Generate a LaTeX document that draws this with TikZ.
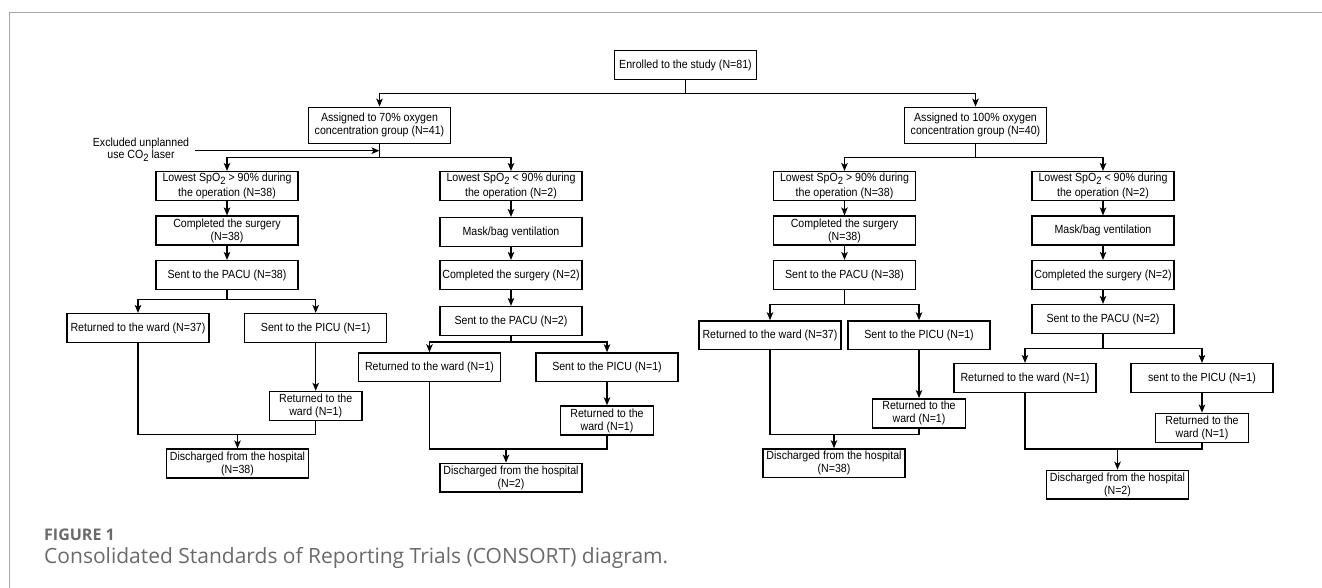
\documentclass[tikz,border=0pt]{standalone}
\usepackage{fontspec}
\setmainfont{Liberation Sans}[FakeStretch=0.9]
\newfontfamily\capfont{Open Sans}
\usetikzlibrary{arrows.meta}
\definecolor{framegray}{HTML}{A8A8A8}
\definecolor{capgray}{HTML}{6A6A6A}
\newcommand{\subtwo}{\raisebox{-3pt}{\fontsize{10.5}{10.5}\selectfont 2}}
\begin{document}
\begin{tikzpicture}[x=1pt,y=-1pt,
  box/.style={draw, line width=1.4pt, inner sep=0pt, align=center,
    font=\fontsize{11.8}{13}\selectfont, minimum width=142pt, minimum height=28.7pt},
  spobox/.style={box, font=\fontsize{11.8}{15.5}\selectfont},
  narrowbox/.style={box, minimum width=92.5pt, minimum height=29pt},
  tallbox/.style={box, minimum height=36pt},
  conn/.style={line width=1.4pt},
  arr/.style={conn, -{Stealth[length=8pt,width=6.5pt,inset=2pt]}},
  plain/.style={inner sep=0pt, align=center, font=\fontsize{11.8}{12.5}\selectfont}]
\useasboundingbox (0,0) rectangle (1322,588);
\draw[framegray, line width=1.5pt] (1322,12.7) -- (9.3,12.7) -- (9.3,588);

% top
\node[box] (enr) at (685.5,65) {Enrolled to the study (N=81)};
\node[tallbox] (a70) at (379.5,125.3) {Assigned to 70\% oxygen\\concentration group (N=41)};
\node[tallbox] (a100) at (975.5,125.3) {Assigned to 100\% oxygen\\concentration group (N=40)};
\node[plain] (exc) at (141,149.5) {Excluded unplanned\\use CO\subtwo{} laser};

% 70% group
\node[spobox] (L1) at (227,186) {Lowest SpO\subtwo{} > 90\% during\\the operation (N=38)};
\node[spobox] (L2) at (511,186) {Lowest SpO\subtwo{} < 90\% during\\the operation (N=2)};
\node[box] (L1c) at (227,230.5) {Completed the surgery\\(N=38)};
\node[box] (L2m) at (511,232) {Mask/bag ventilation};
\node[box] (L1p) at (227,275) {Sent to the PACU (N=38)};
\node[box] (L2c) at (511,275) {Completed the surgery (N=2)};
\node[box] (L1w) at (138,328) {Returned to the ward (N=37)};
\node[box] (L1i) at (315.7,328) {Sent to the PICU (N=1)};
\node[narrowbox] (L1r) at (315.7,406) {Returned to the\\ward (N=1)};
\node[box] (L1d) at (237.5,463.5) {Discharged from the hospital\\(N=38)};
\node[box] (L2p) at (511,321) {Sent to the PACU (N=2)};
\node[box] (L2w) at (429.5,367.3) {Returned to the ward (N=1)};
\node[box] (L2i) at (607,367.3) {Sent to the PICU (N=1)};
\node[narrowbox] (L2r) at (607,420.5) {Returned to the\\ward (N=1)};
\node[box] (L2d) at (511,477.7) {Discharged from the hospital\\(N=2)};

% 100% group
\node[spobox] (R1) at (844.5,186) {Lowest SpO\subtwo{} > 90\% during\\the operation (N=38)};
\node[spobox] (R2) at (1103,186) {Lowest SpO\subtwo{} < 90\% during\\the operation (N=2)};
\node[box] (R1c) at (844.5,230.5) {Completed the surgery\\(N=38)};
\node[box] (R2m) at (1103,230.5) {Mask/bag ventilation};
\node[box] (R1p) at (844.5,275) {Sent to the PACU (N=38)};
\node[box] (R2c) at (1103,275) {Completed the surgery (N=2)};
\node[box] (R1w) at (770,335.3) {Returned to the ward (N=37)};
\node[box] (R1i) at (919,335.3) {Sent to the PICU (N=1)};
\node[narrowbox] (R1r) at (919,413.3) {Returned to the\\ward (N=1)};
\node[box] (R1d) at (834,463.3) {Discharged from the hospital\\(N=38)};
\node[box] (R2p) at (1103,319) {Sent to the PACU (N=2)};
\node[box] (R2w) at (1025,378) {Returned to the ward (N=1)};
\node[box] (R2i) at (1202,378) {sent to the PICU (N=1)};
\node[narrowbox] (R2r) at (1202,427.8) {Returned to the\\ward (N=1)};
\node[box] (R2d) at (1117.5,484.7) {Discharged from the hospital\\(N=2)};

% junction coordinates
\coordinate (s0) at (685.5,93.3);
\coordinate (s70) at (379.5,157.3);
\coordinate (s100) at (975.5,157.3);
\coordinate (excstart) at (195,150.7);
\coordinate (excend) at (379.5,150.7);
\coordinate (sL1) at (227,299.3);
\coordinate (sL2) at (511,342);
\coordinate (sR1) at (844.5,304.7);
\coordinate (sR2) at (1103,348.7);
\coordinate (jL1) at (237.5,434.7);
\coordinate (jL2) at (506,449);
\coordinate (jR1) at (834,434.7);
\coordinate (jR2) at (1117.5,449);

% connectors
\draw[conn] (enr.south) -- (s0);
\draw[arr] (s0) -| (a70.north);
\draw[arr] (s0) -| (a100.north);
\draw[conn] (a70.south) -- (s70);
\draw[arr] (s70) -| (L1.north);
\draw[arr] (s70) -| (L2.north);
\draw[arr] (excstart) -- (excend);
\draw[conn] (a100.south) -- (s100);
\draw[arr] (s100) -| (R1.north);
\draw[arr] (s100) -| (R2.north);

\draw[arr] (L1.south) -- (L1c.north);
\draw[arr] (L1c.south) -- (L1p.north);
\draw[conn] (L1p.south) -- (sL1);
\draw[arr] (sL1) -| (L1w.north);
\draw[arr] (sL1) -| (L1i.north);
\draw[arr] (L1i.south) -- (L1r.north);
\draw[conn] (L1w.south) |- (jL1) -| (L1r.south);
\draw[arr] (jL1) -- (L1d.north);

\draw[arr] (L2.south) -- (L2m.north);
\draw[arr] (L2m.south) -- (L2c.north);
\draw[arr] (L2c.south) -- (L2p.north);
\draw[conn] (L2p.south) -- (sL2);
\draw[arr] (sL2) -| (L2w.north);
\draw[arr] (sL2) -| (L2i.north);
\draw[arr] (L2i.south) -- (L2r.north);
\draw[conn] (L2w.south) |- (jL2) -| (L2r.south);
\draw[arr] (jL2) -- (jL2 |- L2d.north);

\draw[arr] (R1.south) -- (R1c.north);
\draw[arr] (R1c.south) -- (R1p.north);
\draw[conn] (R1p.south) -- (sR1);
\draw[arr] (sR1) -| (R1w.north);
\draw[arr] (sR1) -| (R1i.north);
\draw[arr] (R1i.south) -- (R1r.north);
\draw[conn] (R1w.south) |- (jR1) -| (R1r.south);
\draw[arr] (jR1) -- (R1d.north);

\draw[arr] (R2.south) -- (R2m.north);
\draw[arr] (R2m.south) -- (R2c.north);
\draw[arr] (R2c.south) -- (R2p.north);
\draw[conn] (R2p.south) -- (sR2);
\draw[arr] (sR2) -| (R2w.north);
\draw[arr] (sR2) -| (R2i.north);
\draw[arr] (R2i.south) -- (R2r.north);
\draw[conn] (R2w.south) |- (jR2) -| (R2r.south);
\draw[arr] (jR2) -- (R2d.north);

% caption
\node[anchor=base west, inner sep=0pt, text=capgray,
  font=\capfont\bfseries\fontsize{16}{18}\selectfont] (fig) at (44,540) {FIGURE 1};
\node[anchor=base west, inner sep=0pt, text=capgray,
  font=\capfont\fontsize{21}{24}\selectfont] (cap) at (44,563) {Consolidated Standards of Reporting Trials (CONSORT) diagram.};
\end{tikzpicture}
\end{document}
